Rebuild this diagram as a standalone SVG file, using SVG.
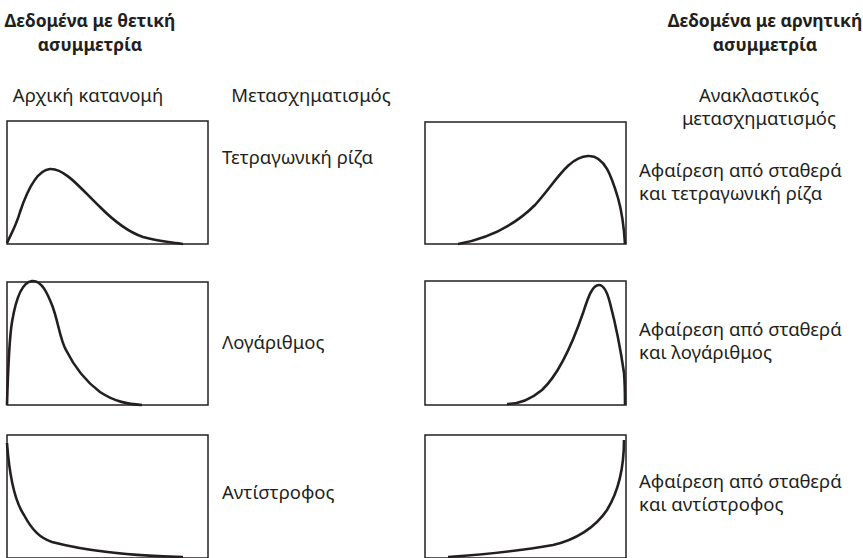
<svg xmlns="http://www.w3.org/2000/svg" width="863" height="558" viewBox="0 0 863 558">
<style>
text{font-family:"Noto Sans","Liberation Sans",sans-serif;font-size:18.5px;fill:#231f20}
.h{font-weight:bold;font-size:17.5px}
.m{text-anchor:middle}
.box{fill:none;stroke:#231f20;stroke-width:1.5}
.c{fill:none;stroke:#231f20;stroke-width:2.6;stroke-linecap:butt;stroke-linejoin:round}
</style>
<rect width="863" height="558" fill="#fff"/>
<g id="headers">
<text class="h m" x="90" y="27">Δεδομένα με θετική</text>
<text class="h m" x="90" y="51">ασυμμετρία</text>
<text class="h m" x="765" y="27">Δεδομένα με αρνητική</text>
<text class="h m" x="765" y="51">ασυμμετρία</text>
<text class="m" x="88" y="102">Αρχική κατανομή</text>
<text class="m" x="311" y="102">Μετασχηματισμός</text>
<text class="m" x="759" y="102">Ανακλαστικός</text>
<text class="m" x="759" y="125">μετασχηματισμός</text>
</g>
<g id="row1">
<g id="pos-sqrt">
<rect class="box" x="7" y="121" width="201" height="123"/>
<path class="c" d="M7,243 C12,232 16,226 20,212 C28,188 38,170 50,169 C65,168 82,190 100,207 C115,222 128,232 143,237 C160,242 172,242 183,244"/>
</g>
<g id="label-sqrt"><text x="222" y="164">Τετραγωνική ρίζα</text></g>
<g id="neg-sqrt">
<rect class="box" x="425" y="122" width="201" height="122"/>
<path class="c" d="M458,244 C490,238 515,225 535,205 C555,183 568,157 588,156 C605,155 612,178 618,198 C622,212 624,228 625,244"/>
</g>
<g id="label-negsqrt"><text x="639" y="177">Αφαίρεση από σταθερά</text><text x="639" y="200">και τετραγωνική ρίζα</text></g>
</g>
<g id="row2">
<g id="pos-log">
<rect class="box" x="7" y="282" width="201" height="123"/>
<path class="c" d="M7,405 C8,370 9,340 12,322 C16,298 22,282 32,281 C42,280 48,295 52,305 C58,320 60,340 66,350 C75,368 88,383 100,392 C115,402 128,404 142,405"/>
</g>
<g id="label-log"><text x="222" y="349">Λογάριθμος</text></g>
<g id="neg-log">
<rect class="box" x="425" y="281" width="201" height="124"/>
<path class="c" d="M507,404 C520,404 530,400 542,390 C558,375 572,345 583,313 C588,298 592,285 599,285 C605,285 608,295 610,303 C615,322 620,345 624,373 C625,385 625,395 625,405"/>
</g>
<g id="label-neglog"><text x="639" y="336">Αφαίρεση από σταθερά</text><text x="639" y="359">και λογάριθμος</text></g>
</g>
<g id="row3">
<g id="pos-inv">
<rect class="box" x="7" y="435" width="201" height="123"/>
<path class="c" d="M7,443 C9,470 14,500 24,515 C32,530 40,538 52,542 C90,552 140,556 183,557"/>
</g>
<g id="label-inv"><text x="222" y="499">Αντίστροφος</text></g>
<g id="neg-inv">
<rect class="box" x="425" y="435" width="201" height="123"/>
<path class="c" d="M448,557 C490,554 530,549 553,545 C575,540 595,528 607,510 C618,492 624,470 624,440"/>
</g>
<g id="label-neginv"><text x="639" y="488">Αφαίρεση από σταθερά</text><text x="639" y="511">και αντίστροφος</text></g>
</g>
</svg>
